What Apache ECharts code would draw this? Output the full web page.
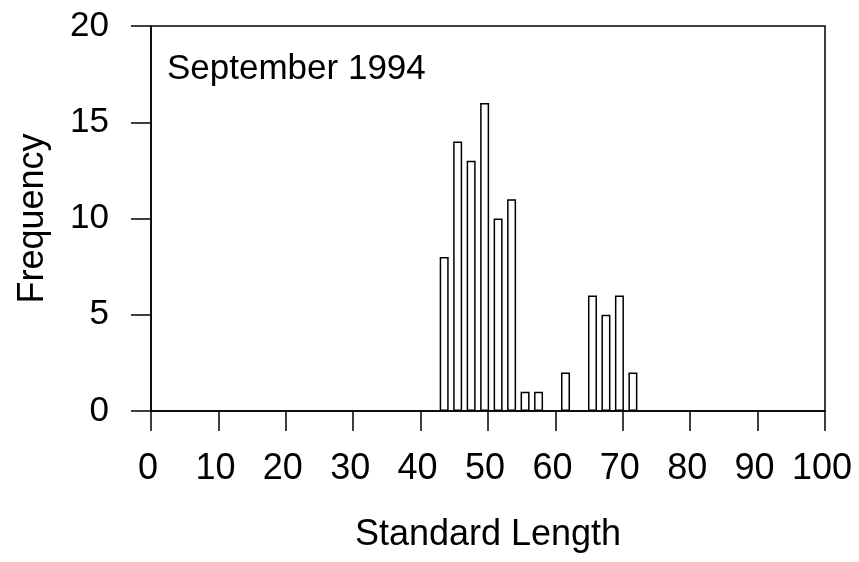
<!DOCTYPE html>
<html>
<head>
<meta charset="utf-8">
<script src="https://cdn.jsdelivr.net/npm/echarts@6/dist/echarts.min.js"></script>
<style>html,body{margin:0;padding:0;background:#fff;}#c{width:859px;height:562px;}</style>
</head>
<body>
<div id="c"></div>
<script>
var lengths = [43.5, 45.5, 47.5, 49.5, 51.5, 53.5, 55.5, 57.5, 61.5, 65.5, 67.5, 69.5, 71.5];
var frequency = [8, 14, 13, 16, 10, 11, 1, 1, 2, 6, 5, 6, 2];
var xTicks = [0, 10, 20, 30, 40, 50, 60, 70, 80, 90, 100];
var yTicks = [0, 5, 10, 15, 20];
var titleText = 'September 1994';

var font = '"Liberation Sans", Arial, sans-serif';
var chart = echarts.init(document.getElementById('c'), null, {renderer: 'canvas'});
chart.setOption({
  animation: false,
  backgroundColor: '#fff',
  grid: {left: 151, right: 34, top: 26, bottom: 151, show: true, borderColor: '#000', borderWidth: 1.5, backgroundColor: 'transparent'},
  graphic: [{
    type: 'text', left: 167, top: 52,
    style: {text: titleText, font: '35px ' + font, fill: '#000'}
  }],
  xAxis: {
    type: 'value', min: xTicks[0], max: xTicks[xTicks.length - 1], interval: 10,
    name: 'Standard Length', nameLocation: 'middle', nameGap: 106,
    nameTextStyle: {fontFamily: font, fontSize: 36, color: '#000'},
    axisLine: {show: true, lineStyle: {color: '#000', width: 1.5}},
    axisTick: {show: true, inside: false, length: 20, lineStyle: {color: '#000', width: 1.5}},
    axisLabel: {margin: 40, fontFamily: font, fontSize: 36, color: '#000', padding: [0, 6, 0, 0]},
    splitLine: {show: false}
  },
  yAxis: {
    type: 'value', min: yTicks[0], max: yTicks[yTicks.length - 1], interval: 5,
    name: 'Frequency', nameLocation: 'middle', nameGap: 100,
    nameTextStyle: {fontFamily: font, fontSize: 36, color: '#000'},
    axisLine: {show: true, lineStyle: {color: '#000', width: 1.5}},
    axisTick: {show: true, inside: false, length: 20, lineStyle: {color: '#000', width: 1.5}},
    axisLabel: {margin: 42, fontFamily: font, fontSize: 35, color: '#000'},
    splitLine: {show: false}
  },
  series: [{
    type: 'bar',
    data: lengths.map(function (x, i) { return [x, frequency[i]]; }),
    barWidth: 9,
    itemStyle: {color: '#fff', borderColor: '#000', borderWidth: 1.5}
  }]
});
</script>
</body>
</html>
